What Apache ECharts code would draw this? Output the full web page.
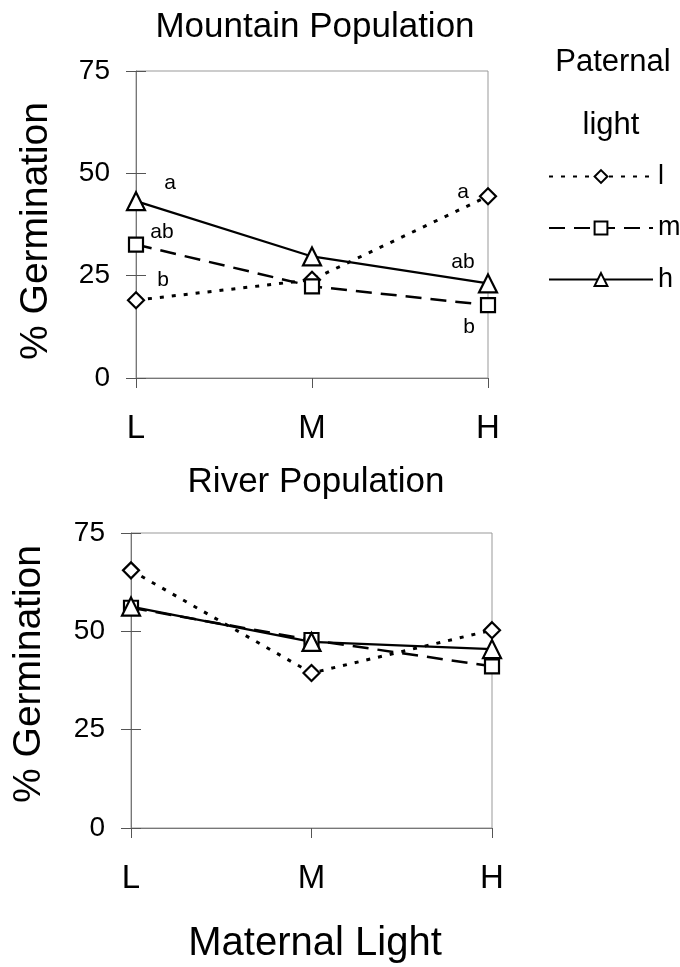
<!DOCTYPE html>
<html>
<head>
<meta charset="utf-8">
<script src="https://cdn.jsdelivr.net/npm/echarts@6/dist/echarts.min.js"></script>
<style>
  html, body { margin: 0; padding: 0; background: #fff; }
  #chart { width: 680px; height: 967px; }
</style>
</head>
<body>
<div id="chart"></div>
<script>
const categories = ['L', 'M', 'H'];
const yTicks = [0, 25, 50, 75];

// Mountain population, % germination per paternal light
const mountainL = [19, 24, 44.4];
const mountainM = [32.6, 22.4, 17.8];
const mountainH = [43.2, 29.7, 23.1];
// significance letters (L and H columns)
const mountainLettersL = ['b', '', 'a'];
const mountainLettersM = ['ab', '', 'b'];
const mountainLettersH = ['a', '', 'ab'];

// River population
const riverL = [65.5, 39.4, 50.3];
const riverM = [56, 47.8, 41.1];
const riverH = [56.3, 47.3, 45.5];

const font = 'Liberation Sans, Arial, sans-serif';

// label offsets for letters, by series and column index
const letterOffsets = {
    l: [[27, -20], null, [-25, -4]],
    m: [[26, -12], null, [-19, 22]],
    h: [[34, -18], null, [-25, -21]]
};

function withLetters(values, letters, key) {
    return values.map((v, i) => {
        if (!letters || !letters[i]) return v;
        return {
            value: v,
            label: {
                show: true,
                formatter: letters[i],
                position: 'inside',
                offset: letterOffsets[key][i],
                fontSize: 21,
                color: '#000',
                fontFamily: font
            }
        };
    });
}

const styles = {
    l: { symbol: 'diamond', symbolSize: 16, line: { type: [4, 8], width: 3 } },
    m: { symbol: 'rect', symbolSize: 14, line: { type: [16, 9], width: 2.5 } },
    h: { symbol: 'triangle', symbolSize: 18, line: { type: 'solid', width: 2.2 } }
};

function makeSeries(name, key, values, letters, idx) {
    const s = styles[key];
    return {
        name: name,
        type: 'line',
        xAxisIndex: idx,
        yAxisIndex: idx * 2,
        data: withLetters(values, letters, key),
        symbol: s.symbol,
        symbolSize: s.symbolSize,
        showAllSymbol: true,
        lineStyle: { color: '#000', width: s.line.width, type: s.line.type },
        itemStyle: { color: '#fff', borderColor: '#000', borderWidth: 2.2 },
        emphasis: { disabled: true },
        z: 3
    };
}

const grids = [
    { left: 136, right: 192, top: 71, height: 307 },
    { left: 131, right: 188, top: 533, height: 295 }
];

function xAxis(idx) {
    return {
        type: 'category',
        gridIndex: idx,
        data: categories,
        boundaryGap: false,
        axisLine: { lineStyle: { color: '#777', width: 1 } },
        axisTick: { show: true, length: 10, lineStyle: { color: '#555' } },
        axisLabel: { color: '#000', fontSize: 33, fontFamily: font, margin: 34 }
    };
}

function yAxes(idx) {
    const base = {
        type: 'value',
        gridIndex: idx,
        min: 0,
        max: 75,
        interval: 25,
        splitLine: { show: false }
    };
    return [
        Object.assign({}, base, {
            axisLine: { show: true, lineStyle: { color: '#777', width: 1 } },
            axisTick: { show: true, length: 10, lineStyle: { color: '#555' } },
            axisLabel: { color: '#000', fontSize: 28, fontFamily: font, margin: 26 }
        }),
        Object.assign({}, base, {
            position: 'left',
            axisLine: { show: false },
            axisTick: { show: true, inside: true, length: 10, lineStyle: { color: '#555' } },
            axisLabel: { show: false }
        })
    ];
}

function yTitle(cx, cy) {
    return {
        type: 'text',
        x: cx,
        y: cy,
        rotation: Math.PI / 2,
        style: {
            text: '% Germination',
            fontSize: 39,
            fontFamily: font,
            fill: '#000',
            align: 'center',
            verticalAlign: 'middle'
        }
    };
}

const titleStyle = { fontWeight: 'normal', color: '#000', fontFamily: font };

const option = {
    backgroundColor: '#fff',
    animation: false,
    title: [
        { text: 'Mountain Population', left: 310, top: 5, textAlign: 'center',
          textStyle: Object.assign({ fontSize: 35 }, titleStyle) },
        { text: 'River Population', left: 311, top: 460, textAlign: 'center',
          textStyle: Object.assign({ fontSize: 35 }, titleStyle) },
        { text: 'Paternal', left: 608, top: 42, textAlign: 'center',
          textStyle: Object.assign({ fontSize: 31 }, titleStyle) },
        { text: 'light', left: 606, top: 105, textAlign: 'center',
          textStyle: Object.assign({ fontSize: 31 }, titleStyle) },
        { text: 'Maternal Light', left: 310, top: 919, textAlign: 'center',
          textStyle: Object.assign({ fontSize: 40 }, titleStyle) }
    ],
    graphic: [yTitle(36, 231), yTitle(29, 674)],
    legend: {
        orient: 'vertical',
        left: 543,
        top: 158,
        itemWidth: 104,
        itemHeight: 16,
        itemGap: 24.5,
        data: ['l', 'm', 'h'],
        textStyle: { fontSize: 27, color: '#000', fontFamily: font, padding: [0, 0, 0, 0] }
    },
    grid: grids.map(g => Object.assign({ show: true, borderColor: '#999', borderWidth: 1, backgroundColor: 'transparent' }, g)),
    xAxis: [xAxis(0), xAxis(1)],
    yAxis: yAxes(0).concat(yAxes(1)),
    series: [
        makeSeries('l', 'l', mountainL, mountainLettersL, 0),
        makeSeries('m', 'm', mountainM, mountainLettersM, 0),
        makeSeries('h', 'h', mountainH, mountainLettersH, 0),
        makeSeries('l', 'l', riverL, null, 1),
        makeSeries('m', 'm', riverM, null, 1),
        makeSeries('h', 'h', riverH, null, 1)
    ]
};

const chart = echarts.init(document.getElementById('chart'), null, { renderer: 'canvas' });
chart.setOption(option);
</script>
</body>
</html>
